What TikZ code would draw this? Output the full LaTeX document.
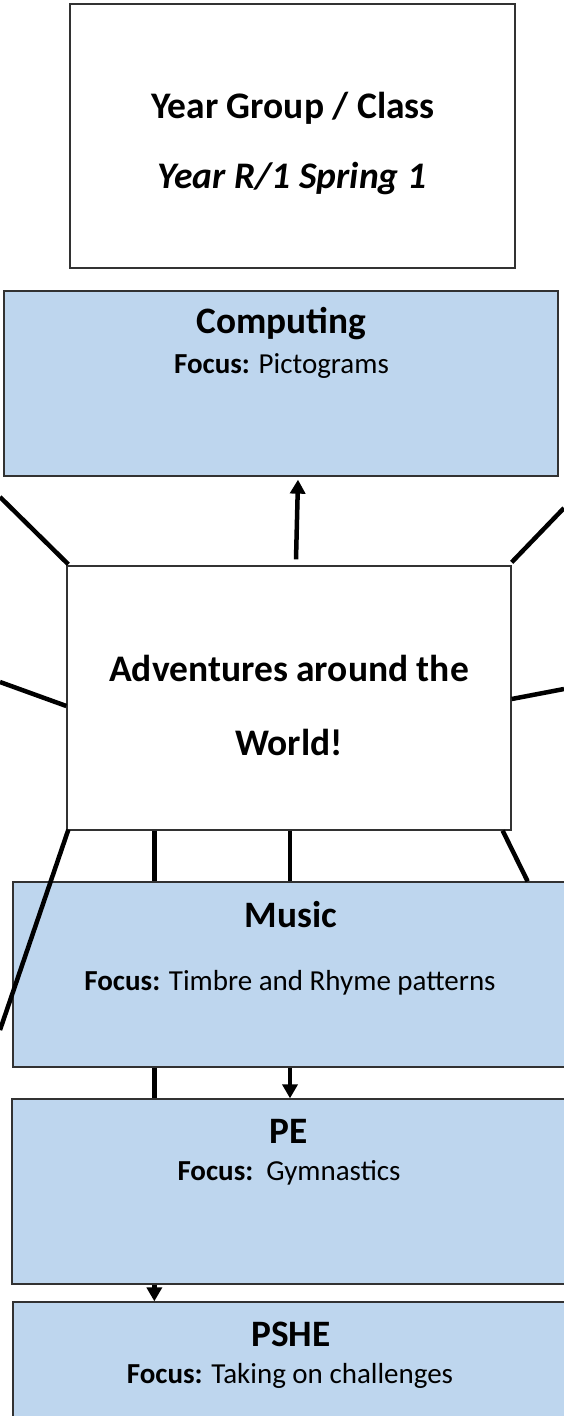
\documentclass[tikz,border=0pt]{standalone}
\usepackage{fontspec}
\setmainfont{Carlito}
\usetikzlibrary{arrows.meta,calc}
\definecolor{boxblue}{RGB}{190,214,238}
\definecolor{boxline}{RGB}{50,50,50}
\begin{document}
\begin{tikzpicture}[x=1pt,y=-1pt,
  plainbox/.style={draw=boxline,line width=1.3pt,fill=white,inner sep=0pt},
  bluebox/.style={draw=boxline,line width=1.3pt,fill=boxblue,inner sep=0pt,minimum width=554pt,minimum height=185pt},
  conn/.style={line width=4.5pt},
  arr/.style={line width=4.5pt,-{Triangle[width=15pt,length=14pt]}},
  txt/.style={anchor=base,inner sep=0pt},
  bigbold/.style={txt,font=\fontsize{37.5}{40}\selectfont\bfseries},
  subbold/.style={txt,font=\fontsize{37.3}{40}\selectfont\bfseries},
  focus/.style={txt,font=\fontsize{29}{32}\selectfont},
]
\useasboundingbox (0,0) rectangle (564,1416);
% boxes
\node[plainbox,minimum width=445pt,minimum height=264pt] (yg) at (292.5,136) {};
\node[bluebox] (comp) at (281,383.5) {};
\node[plainbox,minimum width=444pt,minimum height=264pt] (ctr) at (289,698) {};
\node[bluebox] (music) at (290,974.5) {};
\node[bluebox] (pe) at (289,1191.5) {};
\node[bluebox] (pshe) at (290,1394.5) {};
% texts
\node[bigbold] (ygt) at (293,118) {Year Group / Class};
\node[bigbold,font=\fontsize{37.5}{40}\selectfont\bfseries\itshape] (ygs) at (292,188) {Year R/1 Spring 1};
\node[subbold] (compt) at (281.5,333) {Computing};
\node[focus] (compf) at (281.5,373) {\textbf{Focus:} Pictograms};
\node[bigbold] (ctr1) at (289,681) {Adventures around the};
\node[bigbold] (ctr2) at (289,755) {World!};
\node[subbold] (musict) at (291,927) {Music};
\node[focus] (musicf) at (290,990) {\textbf{Focus:} Timbre and Rhyme patterns};
\node[subbold] (pet) at (289,1143) {PE};
\node[focus] (pef) at (289,1180) {\textbf{Focus:}\ \ Gymnastics};
\node[subbold] (pshet) at (291,1346) {PSHE};
\node[focus] (pshef) at (290,1383) {\textbf{Focus:} Taking on challenges};
% free ends of connectors
\coordinate (ul) at (0,497);
\coordinate (ur) at (564,508);
\coordinate (ml) at (0,682);
\coordinate (mr) at (564,689);
\coordinate (bl) at (0,1030);
\coordinate (v1) at ([xshift=88pt]ctr.south west);
\coordinate (v2) at ([xshift=1pt]ctr.south);
\coordinate (m1) at ([xshift=142pt]music.south west);
\coordinate (p1) at ([xshift=143pt]pe.south west);
% connectors
\draw[arr] ([xshift=7pt,yshift=6pt]ctr.north) -- ([xshift=17pt,yshift=-3pt]comp.south);
\draw[conn] ([xshift=2pt,yshift=1pt]ctr.north west) -- (ul);
\draw[conn] ([yshift=3pt]ctr.north east) -- (ur);
\draw[conn] ([yshift=-8pt]ctr.west) -- (ml);
\draw[conn] ([yshift=-1pt]ctr.east) -- (mr);
\draw[conn] ([xshift=2pt,yshift=1pt]ctr.south west) -- (bl);
\draw[conn] (v1) -- (v1 |- music.north);
\draw[conn] (v2) -- (v2 |- music.north);
\draw[conn] ([xshift=-9pt]ctr.south east) -- ([xshift=-40pt]music.north east);
\draw[conn] (m1) -- (m1 |- pe.north);
\draw[arr] (music.south) -- (music.south |- pe.north);
\draw[arr] (p1) -- (p1 |- pshe.north);
\end{tikzpicture}
\end{document}
